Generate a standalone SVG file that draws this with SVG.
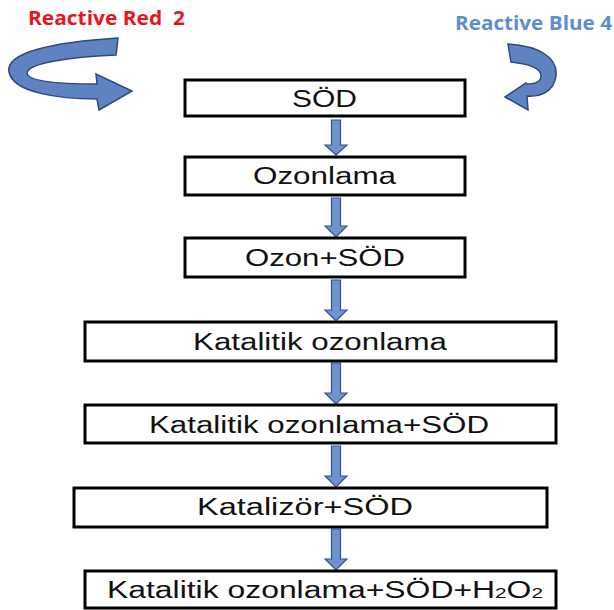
<svg xmlns="http://www.w3.org/2000/svg" width="614" height="610" viewBox="0 0 614 610">
<defs>
<style>
.box{fill:#fff;stroke:#000;stroke-width:3}
.lbl{font-family:"Liberation Sans",Arial,sans-serif;font-size:23px;fill:#111}
.arr{fill:#6f93cf;stroke:#34548c;stroke-width:1.2}
.curve{fill:#5f83c0;stroke:#2c4a80;stroke-width:1.5}
.title{font-family:"Open Sans","Liberation Sans",sans-serif;font-weight:bold;font-size:19px}
</style>
</defs>
<rect width="614" height="610" fill="#fff"/>
<text class="title" x="28" y="25" fill="#e8141b" textLength="157" lengthAdjust="spacingAndGlyphs" xml:space="preserve">Reactive Red  2</text>
<text class="title" x="455" y="30" fill="#5b8ed1" textLength="157" lengthAdjust="spacingAndGlyphs">Reactive Blue 4</text>
<g id="curve-left">
<path class="curve" d="M118,38 C55,42 5,52 9,72 C13,93 60,99 97,99 L99,110 L132,91 L96,74 L97,84 C60,84 28,82 27,73 C28,63 70,57 116,55 Z"/>
</g>
<g id="curve-right">
<path class="curve" d="M508,44 C540,46 558,58 556,76 C554,92 540,97 527,96 L528,110 L505,97 L526,83 L527,84 C536,84 541,81 541,76 C541,68 530,64 511,62 Z"/>
</g>
<g id="connectors">
<path class="arr" d="M331.5,120 H340.5 V145 H347 L336,155 L325,145 H331.5 Z"/>
<path class="arr" d="M331.5,198 H340.5 V226 H347 L336,237 L325,226 H331.5 Z"/>
<path class="arr" d="M331.5,280 H340.5 V310 H347 L336,321 L325,310 H331.5 Z"/>
<path class="arr" d="M331.5,363 H340.5 V393 H347 L336,404 L325,393 H331.5 Z"/>
<path class="arr" d="M331.5,446 H340.5 V476 H347 L336,487 L325,476 H331.5 Z"/>
<path class="arr" d="M331.5,529 H340.5 V559 H347 L336,570 L325,559 H331.5 Z"/>
</g>
<g id="n1"><rect class="box" x="185" y="80" width="280" height="36"/><text class="lbl" x="292" y="107" textLength="65" lengthAdjust="spacingAndGlyphs">SÖD</text></g>
<g id="n2"><rect class="box" x="185" y="157" width="280" height="38"/><text class="lbl" x="253" y="184" textLength="143" lengthAdjust="spacingAndGlyphs">Ozonlama</text></g>
<g id="n3"><rect class="box" x="185" y="238" width="280" height="39"/><text class="lbl" x="245" y="266" textLength="160" lengthAdjust="spacingAndGlyphs">Ozon+SÖD</text></g>
<g id="n4"><rect class="box" x="85" y="322" width="471" height="39"/><text class="lbl" x="193" y="350" textLength="254" lengthAdjust="spacingAndGlyphs">Katalitik ozonlama</text></g>
<g id="n5"><rect class="box" x="85" y="405" width="471" height="38"/><text class="lbl" x="149" y="433" textLength="340" lengthAdjust="spacingAndGlyphs">Katalitik ozonlama+SÖD</text></g>
<g id="n6"><rect class="box" x="74" y="488" width="473" height="39"/><text class="lbl" x="197" y="515" textLength="216" lengthAdjust="spacingAndGlyphs">Katalizör+SÖD</text></g>
<g id="n7"><rect class="box" x="85" y="571" width="471" height="37"/><text class="lbl" x="107" y="598" textLength="436" lengthAdjust="spacingAndGlyphs">Katalitik ozonlama+SÖD+H<tspan font-size="15">2</tspan>O<tspan font-size="15">2</tspan></text></g>
</svg>
